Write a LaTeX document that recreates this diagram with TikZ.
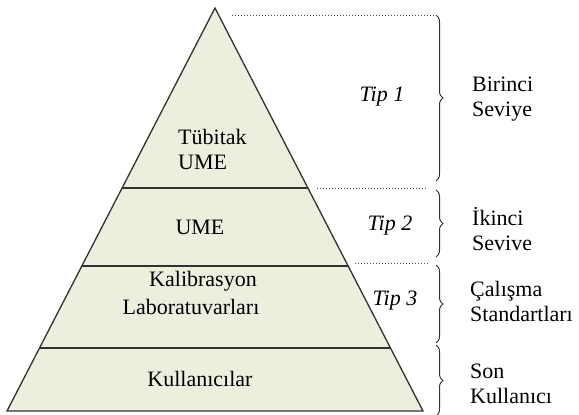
\documentclass[tikz,border=0pt]{standalone}
\usepackage{fontspec}
\setmainfont{Liberation Serif}
\usetikzlibrary{calc,decorations.pathreplacing}
\definecolor{pyrfill}{RGB}{235,239,222}
\definecolor{pyrline}{RGB}{50,50,50}
\definecolor{dotline}{RGB}{80,80,80}
\tikzset{
  layerline/.style={draw=pyrline, line width=1.3pt},
  guideline/.style={draw=dotline, dotted, line width=1pt},
  bracestyle/.style={draw=pyrline, line width=1pt, decorate, decoration={brace, amplitude=7pt}},
  lbl/.style={font=\fontsize{22}{25}\selectfont, inner sep=0pt, text=black},
  tiplbl/.style={lbl, font=\fontsize{22}{25}\selectfont\itshape},
  sidelbl/.style={lbl, align=left, anchor=west},
}
\begin{document}
\begin{tikzpicture}[x=1pt,y=-1pt]
\useasboundingbox (0,0) rectangle (579,415);
% pyramid corners
\coordinate (apex) at (215,8);
\coordinate (bl) at (7,411);
\coordinate (br) at (423,411);
\fill[pyrfill] (apex) -- (br) -- (bl) -- cycle;
% layer boundaries
\coordinate (l1) at ($(apex)!0.4467!(bl)$);
\coordinate (r1) at ($(apex)!0.4467!(br)$);
\coordinate (l2) at ($(apex)!0.640!(bl)$);
\coordinate (r2) at ($(apex)!0.640!(br)$);
\coordinate (l3) at ($(apex)!0.8437!(bl)$);
\coordinate (r3) at ($(apex)!0.8437!(br)$);
\draw[layerline] (l1) -- (r1);
\draw[layerline] (l2) -- (r2);
\draw[layerline] (l3) -- (r3);
\draw[layerline, line join=miter] (apex) -- (br) -- (bl) -- cycle;
% dotted guides
\coordinate (g1a) at (232,15);  \coordinate (g1b) at (436,15);
\coordinate (g2a) at (317,188); \coordinate (g2b) at (428,188);
\coordinate (g3a) at (355,263); \coordinate (g3b) at (428,263);
\draw[guideline] (g1a) -- (g1b);
\draw[guideline] (g2a) -- (g2b);
\draw[guideline] (g3a) -- (g3b);
% braces
\coordinate (b1t) at (436,15);  \coordinate (b1b) at (436,181);
\coordinate (b2t) at (436,190); \coordinate (b2b) at (436,257);
\coordinate (b3t) at (436,265); \coordinate (b3b) at (436,343);
\coordinate (b4t) at (436,345); \coordinate (b4b) at (436,416);
\draw[bracestyle] (b1t) -- (b1b);
\draw[bracestyle] (b2t) -- (b2b);
\draw[bracestyle] (b3t) -- (b3b);
\draw[bracestyle] (b4t) -- (b4b);
% pyramid labels
\node[lbl, align=left, anchor=west] (tub) at (178,149) {Tübitak\\UME};
\node[lbl] (ume) at (200,227) {UME};
\node[lbl] (kal) at (203,281) {Kalibrasyon};
\node[lbl] (lab) at (191,307) {Laboratuvarları};
\node[lbl] (kul) at (200,379) {Kullanıcılar};
% tip labels
\node[tiplbl] (tip1) at (382,97) {Tip 1};
\node[tiplbl] (tip2) at (390,226) {Tip 2};
\node[tiplbl] (tip3) at (395,301) {Tip 3};
% side labels
\node[sidelbl] (s1) at (472,99) {Birinci\\Seviye};
\node[sidelbl] (s2) at (472,229) {İkinci\\Sevive};
\node[sidelbl] (s3) at (470,301) {Çalışma\\Standartları};
\node[sidelbl] (s4) at (470,384) {Son\\Kullanıcı};
\end{tikzpicture}
\end{document}
